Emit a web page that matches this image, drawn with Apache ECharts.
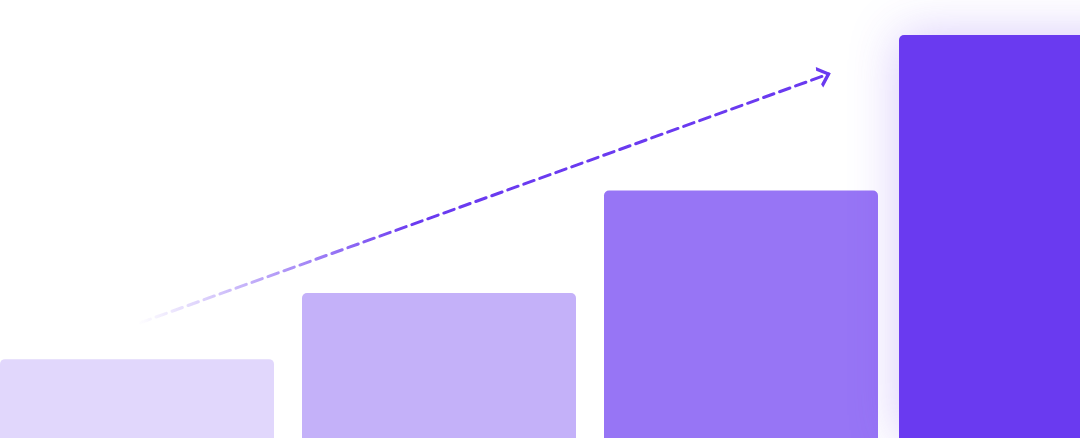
<!DOCTYPE html>
<html>
<head>
    <meta charset="utf-8">
    <title>growth bars</title>
    <script type="text/javascript" src="https://cdn.jsdelivr.net/npm/echarts@6/dist/echarts.min.js"></script>
    <style>
        html, body { margin: 0; padding: 0; background: #ffffff; }
        #main { width: 1080px; height: 438px; }
    </style>
</head>
<body>
    <div id="main"></div>
    <script type="text/javascript">
        // data
        var steps = ['1', '2', '3', '4'];
        var stepValues = [18.0, 33.1, 56.5, 92.0];
        var stepColors = ['#e1d7fc', '#c4b1f9', '#9775f5', '#6a3af0'];
        // trend arrow, [x on 0..4 band scale, y value]
        var trendStart = [0.51, 26.3];
        var trendEnd = [2.79, 83.1];

        var chartDom = document.getElementById('main');
        var myChart = echarts.init(chartDom);

        var barData = stepValues.map(function (v, i) {
            return [i, v];
        });

        var option = {
            animation: false,
            grid: {
                left: -14,
                width: 1208,
                top: 0,
                bottom: 0,
                outerBoundsMode: 'none'
            },
            xAxis: [
                { type: 'category', data: steps, show: false },
                { type: 'value', min: 0, max: 4, show: false }
            ],
            yAxis: { type: 'value', min: 0, max: 100, show: false },
            series: [
                {
                    type: 'custom',
                    xAxisIndex: 0,
                    data: barData,
                    renderItem: function (params, api) {
                        var i = api.value(0);
                        var top = api.coord([i, api.value(1)]);
                        var base = api.coord([i, 0]);
                        var band = api.size([1, 0])[0];
                        var last = i === stepValues.length - 1;
                        var w = band - 28 + (last ? 14 : 0);
                        return {
                            type: 'rect',
                            shape: {
                                x: top[0] - w / 2,
                                y: top[1],
                                width: w,
                                height: base[1] - top[1],
                                r: [5, 5, 0, 0]
                            },
                            style: {
                                fill: stepColors[i],
                                shadowBlur: last ? 50 : 0,
                                shadowColor: last ? 'rgba(106,58,240,0.28)' : 'transparent'
                            }
                        };
                    }
                },
                {
                    type: 'line',
                    xAxisIndex: 1,
                    z: 5,
                    data: [
                        { value: trendStart, symbol: 'none' },
                        {
                            value: trendEnd,
                            symbol: 'path://M0,0L10,9L0,18',
                            symbolSize: [10, 18],
                            symbolRotate: 20,
                            symbolOffset: [-4.8, 1.7],
                            itemStyle: {
                                color: 'none',
                                borderColor: '#6a3af0',
                                borderWidth: 3
                            }
                        }
                    ],
                    lineStyle: {
                        width: 3,
                        type: [11, 6],
                        cap: 'round',
                        color: new echarts.graphic.LinearGradient(0, 0, 1, 0, [
                            { offset: 0, color: 'rgba(106,58,240,0)' },
                            { offset: 0.4, color: 'rgba(106,58,240,1)' },
                            { offset: 1, color: 'rgba(106,58,240,1)' }
                        ])
                    },
                    silent: true
                }
            ]
        };

        option && myChart.setOption(option);
    </script>
</body>
</html>
